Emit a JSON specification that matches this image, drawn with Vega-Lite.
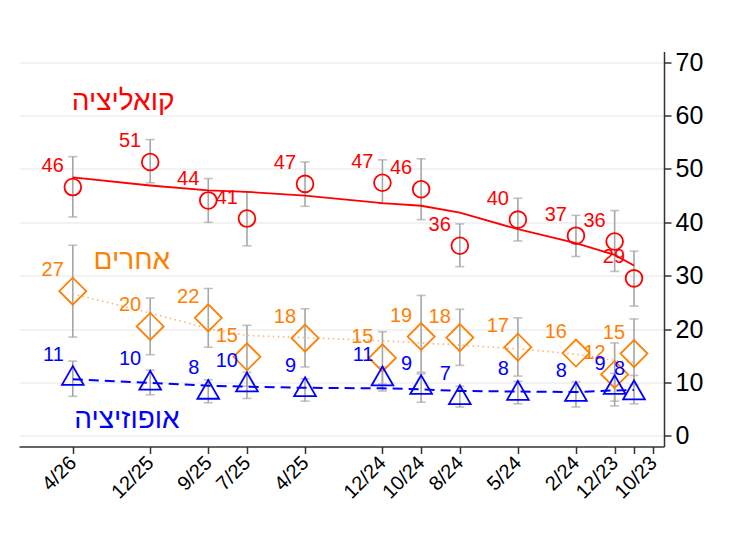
{
  "$schema": "https://vega.github.io/schema/vega-lite/v6.json",
  "width": 645,
  "height": 395,
  "autosize": "none",
  "padding": {"left": 19, "top": 51.5, "right": 74, "bottom": 89.5},
  "background": "white",
  "config": {"view": {"stroke": null}, "font": "Liberation Sans"},
  "datasets": {
    "pts": [
      {"s": "coal", "m": 40, "v": 46.6, "lo": 41.0, "hi": 52.3, "t": 48.4, "lab": "46"},
      {"s": "coal", "m": 36, "v": 51.3, "lo": 47.4, "hi": 55.5, "t": 46.9, "lab": "51"},
      {"s": "coal", "m": 33, "v": 44.1, "lo": 40.0, "hi": 48.2, "t": 46.0, "lab": "44"},
      {"s": "coal", "m": 31, "v": 40.7, "lo": 35.6, "hi": 45.7, "t": 45.7, "lab": "41"},
      {"s": "coal", "m": 28, "v": 47.2, "lo": 43.0, "hi": 51.3, "t": 45.0, "lab": "47"},
      {"s": "coal", "m": 24, "v": 47.4, "lo": 43.5, "hi": 51.7, "t": 43.6, "lab": "47"},
      {"s": "coal", "m": 22, "v": 46.2, "lo": 40.5, "hi": 51.9, "t": 43.1, "lab": "46"},
      {"s": "coal", "m": 20, "v": 35.6, "lo": 31.7, "hi": 39.7, "t": 41.8, "lab": "36"},
      {"s": "coal", "m": 17, "v": 40.5, "lo": 36.5, "hi": 44.5, "t": 38.7, "lab": "40"},
      {"s": "coal", "m": 14, "v": 37.5, "lo": 33.6, "hi": 41.3, "t": 36.1, "lab": "37"},
      {"s": "coal", "m": 12, "v": 36.4, "lo": 30.8, "hi": 42.2, "t": 33.9, "lab": "36"},
      {"s": "coal", "m": 11, "v": 29.5, "lo": 24.3, "hi": 34.6, "t": 31.9, "lab": "29"},
      {"s": "oth", "m": 40, "v": 27.1, "lo": 18.5, "hi": 35.7, "t": 26.6, "lab": "27"},
      {"s": "oth", "m": 36, "v": 20.5, "lo": 15.2, "hi": 25.8, "t": 23.0, "lab": "20"},
      {"s": "oth", "m": 33, "v": 22.1, "lo": 16.6, "hi": 27.6, "t": 20.1, "lab": "22"},
      {"s": "oth", "m": 31, "v": 14.8, "lo": 9.3, "hi": 20.7, "t": 18.8, "lab": "15"},
      {"s": "oth", "m": 28, "v": 18.3, "lo": 12.9, "hi": 23.8, "t": 18.4, "lab": "18"},
      {"s": "oth", "m": 24, "v": 14.6, "lo": 9.7, "hi": 19.5, "t": 17.8, "lab": "15"},
      {"s": "oth", "m": 22, "v": 18.6, "lo": 11.9, "hi": 26.3, "t": 17.4, "lab": "19"},
      {"s": "oth", "m": 20, "v": 18.4, "lo": 13.2, "hi": 23.7, "t": 17.0, "lab": "18"},
      {"s": "oth", "m": 17, "v": 16.6, "lo": 11.2, "hi": 22.1, "t": 16.3, "lab": "17"},
      {"s": "oth", "m": 14, "v": 15.5, "lo": null, "hi": null, "t": 15.3, "lab": "16"},
      {"s": "oth", "m": 12, "v": 11.5, "lo": 5.6, "hi": 17.4, "t": 14.1, "lab": "12"},
      {"s": "oth", "m": 11, "v": 15.4, "lo": 9.5, "hi": 21.9, "t": 13.8, "lab": "15"},
      {"s": "opp", "m": 40, "v": 11.3, "lo": 7.4, "hi": 14.0, "t": 10.6, "lab": "11"},
      {"s": "opp", "m": 36, "v": 10.4, "lo": 7.7, "hi": 12.3, "t": 9.9, "lab": "10"},
      {"s": "opp", "m": 33, "v": 8.7, "lo": 6.2, "hi": 10.5, "t": 9.4, "lab": "8"},
      {"s": "opp", "m": 31, "v": 10.1, "lo": 7.0, "hi": 11.9, "t": 9.2, "lab": "10"},
      {"s": "opp", "m": 28, "v": 9.2, "lo": 6.5, "hi": 10.7, "t": 9.0, "lab": "9"},
      {"s": "opp", "m": 24, "v": 11.2, "lo": 8.4, "hi": 12.9, "t": 8.9, "lab": "11"},
      {"s": "opp", "m": 22, "v": 9.6, "lo": 6.3, "hi": 11.6, "t": 8.7, "lab": "9"},
      {"s": "opp", "m": 20, "v": 7.7, "lo": 5.4, "hi": 9.3, "t": 8.4, "lab": "7"},
      {"s": "opp", "m": 17, "v": 8.5, "lo": 6.0, "hi": 10.2, "t": 8.3, "lab": "8"},
      {"s": "opp", "m": 14, "v": 8.3, "lo": 5.4, "hi": 10.1, "t": 8.2, "lab": "8"},
      {"s": "opp", "m": 12, "v": 9.6, "lo": 6.5, "hi": 11.7, "t": 8.5, "lab": "9"},
      {"s": "opp", "m": 11, "v": 8.6, "lo": 6.0, "hi": 11.3, "t": 8.6, "lab": "8"}
    ],
    "names": [
      {"s": "coal", "m": 37.4, "v": 61.0, "name": "קואליציה"},
      {"s": "oth", "m": 36.95, "v": 31.2, "name": "אחרים"},
      {"s": "opp", "m": 37.2, "v": 1.4, "name": "אופוזיציה"}
    ]
  },
  "data": {"name": "pts"},
  "encoding": {
    "x": {
      "field": "m",
      "type": "quantitative",
      "title": null,
      "scale": {"domain": [9.45, 42.78], "reverse": true, "nice": false, "zero": false},
      "axis": {
        "values": [40, 36, 33, 31, 28, 24, 22, 20, 17, 14, 12, 11, 10],
        "labelExpr": "datum.value == 11 ? '' : ((datum.value - 1) % 12 + 1) + '/' + (23 + floor((datum.value - 1) / 12))",
        "labelAngle": -45,
        "labelAlign": "right",
        "labelBaseline": "middle",
        "labelFontSize": 20,
        "labelColor": "black",
        "labelPadding": 6,
        "labelOverlap": false,
        "labelFlush": false,
        "tickSize": 7,
        "tickColor": "#333333",
        "tickWidth": 1.5,
        "domainColor": "#333333",
        "domainWidth": 1.5,
        "grid": false
      }
    },
    "y": {
      "field": "v",
      "type": "quantitative",
      "title": null,
      "scale": {"domain": [-2, 72], "nice": false, "zero": false},
      "axis": {
        "orient": "right",
        "values": [0, 10, 20, 30, 40, 50, 60, 70],
        "grid": true,
        "gridColor": "#e6e6e6",
        "gridWidth": 1.2,
        "labelFontSize": 25,
        "labelColor": "black",
        "labelPadding": 4,
        "labelFlush": false,
        "tickSize": 7,
        "tickColor": "#333333",
        "tickWidth": 1.5,
        "domainColor": "#333333",
        "domainWidth": 1.5
      }
    }
  },
  "layer": [
    {
      "transform": [{"filter": "datum.lo != null"}],
      "mark": {"type": "errorbar", "ticks": {"size": 9}, "color": "#a6a6a6", "thickness": 1.6},
      "encoding": {
        "y": {"field": "lo", "type": "quantitative", "title": null},
        "y2": {"field": "hi"}
      }
    },
    {
      "transform": [{"filter": "datum.s == 'coal'"}],
      "mark": {"type": "line", "color": "#ff0000", "strokeWidth": 1.8},
      "encoding": {"y": {"field": "t", "type": "quantitative", "title": null}}
    },
    {
      "transform": [{"filter": "datum.s == 'oth'"}],
      "mark": {"type": "line", "color": "#ffb36b", "strokeWidth": 1.6, "strokeDash": [1.5, 3.5]},
      "encoding": {"y": {"field": "t", "type": "quantitative", "title": null}}
    },
    {
      "transform": [{"filter": "datum.s == 'opp'"}],
      "mark": {"type": "line", "color": "#0000ff", "strokeWidth": 2, "strokeDash": [10, 6]},
      "encoding": {"y": {"field": "t", "type": "quantitative", "title": null}}
    },
    {
      "transform": [{"filter": "datum.s == 'coal'"}],
      "mark": {"type": "point", "shape": "circle", "filled": false, "size": 280, "strokeWidth": 1.8, "color": "#ff0000", "opacity": 1}
    },
    {
      "transform": [{"filter": "datum.s == 'oth'"}],
      "mark": {"type": "point", "shape": "diamond", "filled": false, "size": 729, "strokeWidth": 1.8, "color": "#ff8000", "opacity": 1}
    },
    {
      "transform": [{"filter": "datum.s == 'opp'"}],
      "mark": {"type": "point", "shape": "triangle-up", "filled": false, "size": 470, "strokeWidth": 1.8, "color": "#0000ff", "opacity": 1}
    },
    {
      "mark": {"type": "text", "align": "right", "baseline": "middle", "dx": -9, "dy": -21, "fontSize": 20},
      "encoding": {
        "text": {"field": "lab"},
        "color": {"field": "s", "type": "nominal", "legend": null, "scale": {"domain": ["coal", "oth", "opp"], "range": ["#ff0000", "#ff8000", "#0000ff"]}}
      }
    },
    {
      "data": {"name": "names"},
      "mark": {"type": "text", "align": "center", "baseline": "alphabetic", "fontSize": 28},
      "encoding": {
        "text": {"field": "name"},
        "color": {"field": "s", "type": "nominal", "legend": null, "scale": {"domain": ["coal", "oth", "opp"], "range": ["#ff0000", "#ff8000", "#0000ff"]}}
      }
    }
  ]
}
